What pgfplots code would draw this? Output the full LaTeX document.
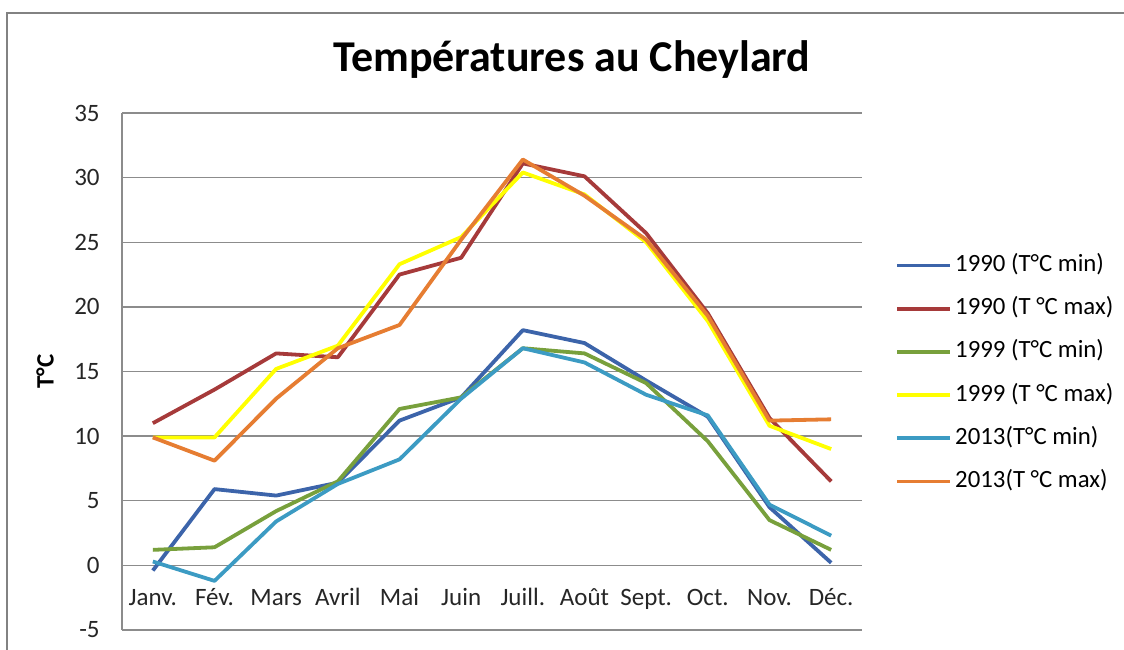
\documentclass[border=0pt]{standalone}
\usepackage{pgfplots}
\pgfplotsset{compat=1.18}
\usepackage{fontspec}
\setmainfont{Carlito}
\definecolor{cBlue}{RGB}{60,100,170}
\definecolor{cRed}{RGB}{166,58,58}
\definecolor{cGreen}{RGB}{120,160,60}
\definecolor{cYellow}{RGB}{255,255,0}
\definecolor{cCyan}{RGB}{60,155,195}
\definecolor{cOrange}{RGB}{230,125,50}
\definecolor{cGrid}{RGB}{140,140,140}
\definecolor{cFrame}{RGB}{130,130,130}
\begin{document}
\begin{tikzpicture}
\path[use as bounding box] (0bp,0bp) rectangle (562bp,325bp);
\draw[cFrame, line width=1bp] (3.5bp,0bp) -- (3.5bp,318.5bp) -- (562bp,318.5bp);
\begin{axis}[
  at={(61bp,10bp)}, anchor=south west,
  scale only axis, width=370bp, height=258.5bp,
  xmin=-0.5, xmax=11.5, ymin=-5, ymax=35,
  xtick={0,...,11},
  xticklabels={Janv.,Fév.,Mars,Avril,Mai,Juin,Juill.,Août,Sept.,Oct.,Nov.,Déc.},
  ytick={-5,0,...,35},
  /pgf/number format/assume math mode=true,
  major tick length=0pt,
  axis lines*=left,
  x axis line style={draw=none},
  y axis line style={draw=cGrid, line width=0.7bp},
  ymajorgrids, grid style={cGrid, line width=0.7bp},
  tick label style={font=\fontsize{12.5bp}{14bp}\selectfont, text=black!85},
  xticklabel style={anchor=center, inner sep=0pt, text height=9bp, text depth=3bp, yshift=15.5bp},
  yticklabel style={anchor=east, inner sep=0pt, xshift=-11bp},
  ylabel={\bfseries T°C},
  ylabel style={at={(axis description cs:-0.104,0.5)}, anchor=center, rotate=0, font=\fontsize{12.5bp}{14bp}\selectfont},
  every axis title shift=0pt,
  title={\bfseries Températures au Cheylard},
  title style={at={(axis description cs:0.608,1.1025)}, anchor=center, font=\fontsize{22bp}{24bp}\selectfont},
  legend cell align=left,
  legend style={draw=none, fill=none, inner sep=0pt, at={(axis description cs:1.0446,0.729)}, anchor=north west,
    font=\fontsize{12.4bp}{14bp}\selectfont, row sep=9.6bp, column sep=1.5bp,
    nodes={inner sep=0pt, text height=9bp, text depth=3bp}},
  legend image code/.code={\draw[#1] (0bp,0bp) -- (26.5bp,0bp);},
  every axis plot/.append style={line width=1.9bp, line join=round},
]
\addplot[cBlue] coordinates {(0,-0.4) (1,5.9) (2,5.4) (3,6.4) (4,11.2) (5,13.0) (6,18.2) (7,17.2) (8,14.3) (9,11.5) (10,4.5) (11,0.2)};
\addlegendentry{1990 (T°C min)}
\addplot[cRed] coordinates {(0,11.0) (1,13.6) (2,16.4) (3,16.1) (4,22.5) (5,23.8) (6,31.1) (7,30.1) (8,25.7) (9,19.5) (10,11.4) (11,6.5)};
\addlegendentry{1990 (T °C max)}
\addplot[cGreen] coordinates {(0,1.2) (1,1.4) (2,4.2) (3,6.5) (4,12.1) (5,13.0) (6,16.8) (7,16.4) (8,14.1) (9,9.6) (10,3.5) (11,1.2)};
\addlegendentry{1999 (T°C min)}
\addplot[cYellow] coordinates {(0,9.9) (1,9.9) (2,15.2) (3,17.0) (4,23.3) (5,25.4) (6,30.4) (7,28.7) (8,25.0) (9,18.9) (10,10.8) (11,9.0)};
\addlegendentry{1999 (T °C max)}
\addplot[cCyan] coordinates {(0,0.3) (1,-1.2) (2,3.4) (3,6.3) (4,8.2) (5,12.9) (6,16.8) (7,15.7) (8,13.2) (9,11.6) (10,4.7) (11,2.3)};
\addlegendentry{2013(T°C min)}
\addplot[cOrange] coordinates {(0,9.9) (1,8.1) (2,12.9) (3,16.8) (4,18.6) (5,25.2) (6,31.4) (7,28.6) (8,25.2) (9,19.3) (10,11.2) (11,11.3)};
\addlegendentry{2013(T °C max)}
\end{axis}
\end{tikzpicture}
\end{document}
